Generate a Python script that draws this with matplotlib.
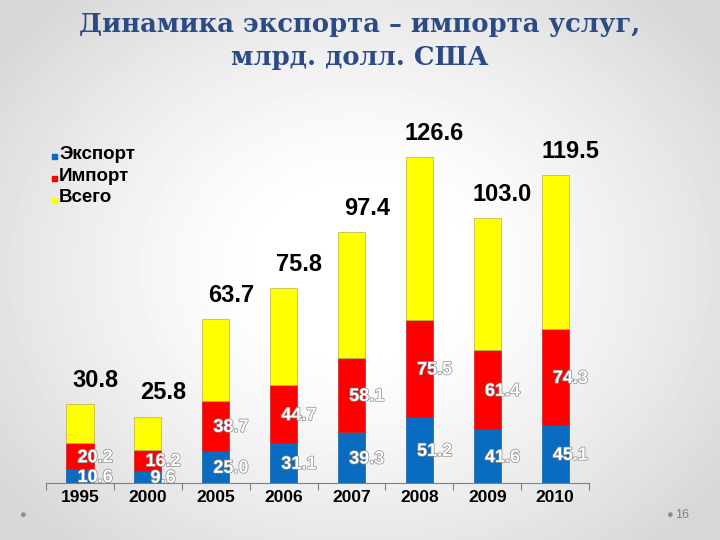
import numpy as np
import matplotlib.pyplot as plt
from matplotlib import patheffects as pe
from matplotlib.lines import Line2D

years = ['1995', '2000', '2005', '2006', '2007', '2008', '2009', '2010']
export = [10.6, 9.6, 25.0, 31.1, 39.3, 51.2, 41.6, 45.1]
imports = [20.2, 16.2, 38.7, 44.7, 58.1, 75.5, 61.4, 74.3]
total = [30.8, 25.8, 63.7, 75.8, 97.4, 126.6, 103.0, 119.5]
legend_names = ['Экспорт', 'Импорт', 'Всего']

c_blue = '#0A6CC0'
c_red = '#FF0000'
c_yellow = '#FFFF00'

plt.rcParams['font.family'] = ['Liberation Sans', 'DejaVu Sans']

fig = plt.figure(figsize=(7.2, 5.4), dpi=100)

# slide background: soft radial gradient
bg = fig.add_axes([0, 0, 1, 1], zorder=-10)
yy, xx = np.mgrid[-1:1:270j, -1:1:360j]
r = np.sqrt(xx ** 2 + (yy * 0.9) ** 2)
bg.imshow(1 - 0.16 * np.clip(r - 0.25, 0, 1) ** 1.3, cmap='gray', vmin=0, vmax=1,
          aspect='auto', extent=[0, 1, 0, 1])
bg.axis('off')

ax = fig.add_axes([0.0639, 0.1056, 0.7542, 0.6197])
ax.patch.set_alpha(0)
x = np.arange(len(years))
w = 0.4

ax.bar(x, export, w, color=c_blue, edgecolor='#1060A8', linewidth=0.5)
ax.bar(x, imports, w, bottom=export, color=c_red, edgecolor='#C82020', linewidth=0.5)
bottom2 = np.array(export) + np.array(imports)
ax.bar(x, total, w, bottom=bottom2, color=c_yellow, edgecolor='#B8B040', linewidth=0.5)

outline = [pe.withStroke(linewidth=1.0, foreground='#8A8A8A')]
for i in range(len(years)):
    ax.annotate(f'{export[i]:.1f}', (x[i], export[i] / 2), xytext=(11, -1),
                textcoords='offset points', ha='center', va='center',
                color='white', fontsize=13, fontweight='bold', path_effects=outline)
    ax.annotate(f'{imports[i]:.1f}', (x[i], export[i] + imports[i] / 2), xytext=(11, -1),
                textcoords='offset points', ha='center', va='center',
                color='white', fontsize=13, fontweight='bold', path_effects=outline)
    ax.annotate(f'{total[i]:.1f}', (x[i], bottom2[i] + total[i]), xytext=(11, 17),
                textcoords='offset points', ha='center', va='center',
                color='black', fontsize=17, fontweight='bold')

ax.set_xlim(-0.5, len(years) - 0.5)
ax.set_ylim(0, 260)
ax.set_yticks([])
for s in ['left', 'right', 'top']:
    ax.spines[s].set_visible(False)
ax.spines['bottom'].set_color('#808080')
ax.set_xticks(np.arange(-0.5, len(years), 1), minor=False)
ax.set_xticklabels([])
ax.tick_params(axis='x', length=5, color='#808080')
for i, yl in enumerate(years):
    ax.text(x[i], -11.5, yl, ha='center', va='center', fontsize=12.5,
            fontweight='bold', transform=ax.transData)

# legend drawn by hand: small square + bold label
for k, (name, c) in enumerate(zip(legend_names, [c_blue, c_red, c_yellow])):
    ypx = 155 + 21.5 * k
    fig.add_artist(Line2D([54.5 / 720], [1 - (ypx + 1.5) / 540], marker='s', markersize=3.6,
                          color=c, linestyle='', transform=fig.transFigure))
    fig.text(59 / 720, 1 - ypx / 540, name, ha='left', va='center', fontsize=13.5,
             fontweight='bold')

title_font = ['DejaVu Serif']
fig.text(0.5, 1 - 32 / 540, 'Динамика экспорта – импорта услуг,', ha='center', va='baseline',
         fontsize=18.6, fontweight='bold', color='#2B4A86', family=title_font)
fig.text(0.5, 1 - 65 / 540, 'млрд. долл. США', ha='center', va='baseline',
         fontsize=18.6, fontweight='bold', color='#2B4A86', family=title_font)

# slide footer marks
fig.text(22 / 720, 1 - 515 / 540, '●', ha='center', va='center', fontsize=8, color='#8C8C8C')
fig.text(669 / 720, 1 - 515 / 540, '●', ha='center', va='center', fontsize=8, color='#8C8C8C')
fig.text(682 / 720, 1 - 515 / 540, '16', ha='center', va='center', fontsize=9, color='#808080')

fig.savefig('out.png', dpi=100)
